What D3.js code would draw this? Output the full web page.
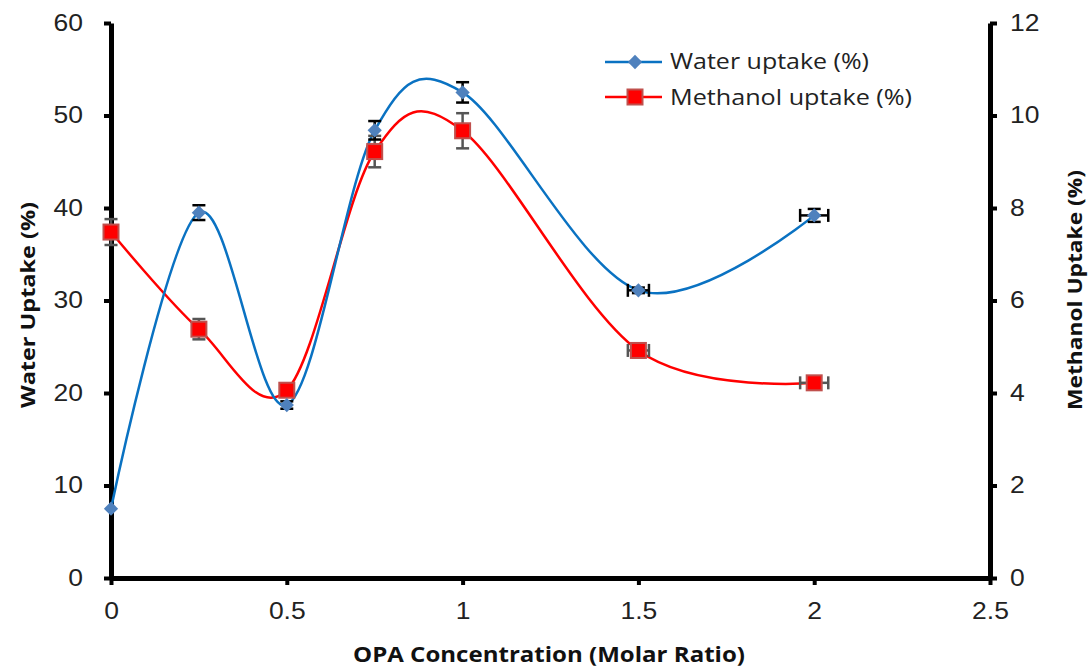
<!DOCTYPE html>
<html>
<head>
<meta charset="utf-8">
<script src="https://cdn.jsdelivr.net/npm/d3@7"></script>
<style>
  html, body { margin: 0; padding: 0; background: #fff; }
  svg { display: block; }
  .tick text { font-family: "Liberation Sans", Arial, sans-serif; font-size: 23px; fill: #222; }
  .title { font-family: "Open Sans", "Liberation Sans", sans-serif; font-weight: bold; fill: #111; }
  .legend text { font-family: "Open Sans", "Liberation Sans", sans-serif; font-size: 21px; fill: #222; }
</style>
</head>
<body>
<svg id="chart" width="1091" height="669"></svg>
<script>
// OPA concentration (molar ratio)
const opa = [0, 0.25, 0.5, 0.75, 1, 1.5, 2];
// Water uptake (%) with error
const water = [7.5, 39.5, 18.7, 48.4, 52.5, 31.1, 39.2];
const waterErrY = [0, 0.8, 0.4, 1.0, 1.1, 0.3, 0.7];
const waterErrX = [0, 0, 0, 0, 0, 0.03, 0.04];
// Methanol uptake (%) with error
const methanol = [7.48, 5.38, 4.06, 9.22, 9.67, 4.92, 4.22];
const methErrY = [0.28, 0.22, 0.1, 0.34, 0.38, 0.15, 0.1];
const methErrX = [0, 0, 0, 0, 0, 0.03, 0.04];

const xTicks = [0, 0.5, 1, 1.5, 2, 2.5];
const leftTicks = [0, 10, 20, 30, 40, 50, 60];
const rightTicks = [0, 2, 4, 6, 8, 10, 12];

const svg = d3.select("#chart");
const plotL = 111, plotR = 990, plotT = 23, plotB = 578;

const x = d3.scaleLinear().domain([0, 2.5]).range([plotL, plotR]);
const yL = d3.scaleLinear().domain([0, 60]).range([plotB, plotT]);
const yR = d3.scaleLinear().domain([0, 12]).range([plotB, plotT]);

// widen glyphs horizontally by a given factor
function widen(sel, factor) {
  sel.each(function () {
    const len = this.getComputedTextLength();
    d3.select(this).attr("textLength", len * factor).attr("lengthAdjust", "spacingAndGlyphs");
  });
}

function styleAxis(g) {
  g.select(".domain").attr("stroke", "#000").attr("stroke-width", 5);
  g.selectAll(".tick line").attr("stroke", "#000").attr("stroke-width", 4);
  widen(g.selectAll(".tick text"), 1.15);
}

// axes
svg.append("g").attr("transform", `translate(0,${plotB})`)
  .call(d3.axisBottom(x).tickValues(xTicks).tickFormat(d3.format("")).tickSize(7).tickSizeOuter(0).tickPadding(18))
  .call(styleAxis);
svg.append("g").attr("transform", `translate(${plotL},0)`)
  .call(d3.axisLeft(yL).tickValues(leftTicks).tickSize(7).tickSizeOuter(0).tickPadding(21))
  .call(styleAxis);
svg.append("g").attr("transform", `translate(${plotR},0)`)
  .call(d3.axisRight(yR).tickValues(rightTicks).tickSize(7).tickSizeOuter(0).tickPadding(13))
  .call(styleAxis);

// axis titles
svg.append("text").attr("class", "title").attr("text-anchor", "middle")
  .style("font-size", "21px")
  .attr("x", 549).attr("y", 662)
  .attr("textLength", 392).attr("lengthAdjust", "spacingAndGlyphs")
  .text("OPA Concentration (Molar Ratio)");
svg.append("text").attr("class", "title").attr("text-anchor", "middle")
  .style("font-size", "20px")
  .attr("transform", "translate(35,305) rotate(-90)")
  .attr("textLength", 206).attr("lengthAdjust", "spacingAndGlyphs")
  .text("Water Uptake (%)");
svg.append("text").attr("class", "title").attr("text-anchor", "middle")
  .style("font-size", "20px")
  .attr("transform", "translate(1082,290) rotate(-90)")
  .attr("textLength", 240).attr("lengthAdjust", "spacingAndGlyphs")
  .text("Methanol Uptake (%)");

const curve = d3.curveCardinal.tension(0);

const waterPts = opa.map((v, i) => ({ x: v, y: water[i], ey: waterErrY[i], ex: waterErrX[i] }));
const methPts = opa.map((v, i) => ({ x: v, y: methanol[i], ey: methErrY[i], ex: methErrX[i] }));

// smoothed lines
svg.append("path").datum(methPts)
  .attr("fill", "none").attr("stroke", "#ff0000").attr("stroke-width", 2.5)
  .attr("d", d3.line().x(d => x(d.x)).y(d => yR(d.y)).curve(curve));
svg.append("path").datum(waterPts)
  .attr("fill", "none").attr("stroke", "#0a72c2").attr("stroke-width", 2.5)
  .attr("d", d3.line().x(d => x(d.x)).y(d => yL(d.y)).curve(curve));

// error bars
function errorBars(pts, yScale, color) {
  const g = svg.append("g").attr("stroke", color).attr("stroke-width", 2.5).attr("fill", "none");
  const cap = 6.5;
  pts.forEach(d => {
    const cx = x(d.x), cy = yScale(d.y);
    if (d.ey > 0) {
      const y1 = yScale(d.y + d.ey), y2 = yScale(d.y - d.ey);
      g.append("line").attr("x1", cx).attr("x2", cx).attr("y1", y1).attr("y2", y2);
      g.append("line").attr("x1", cx - cap).attr("x2", cx + cap).attr("y1", y1).attr("y2", y1);
      g.append("line").attr("x1", cx - cap).attr("x2", cx + cap).attr("y1", y2).attr("y2", y2);
    }
    if (d.ex > 0) {
      const x1 = x(d.x - d.ex), x2 = x(d.x + d.ex);
      g.append("line").attr("x1", x1).attr("x2", x2).attr("y1", cy).attr("y2", cy);
      g.append("line").attr("x1", x1).attr("x2", x1).attr("y1", cy - cap).attr("y2", cy + cap);
      g.append("line").attr("x1", x2).attr("x2", x2).attr("y1", cy - cap).attr("y2", cy + cap);
    }
  });
}
errorBars(methPts, yR, "#555");
errorBars(waterPts, yL, "#000");

// markers
const diamond = d3.symbol().type(d3.symbolDiamond2).size(130);
svg.append("g").selectAll("rect").data(methPts).join("rect")
  .attr("x", d => x(d.x) - 7.5).attr("y", d => yR(d.y) - 7.5)
  .attr("width", 15).attr("height", 15)
  .attr("fill", "#ff0000").attr("stroke", "#c0504d").attr("stroke-width", 2);
svg.append("g").selectAll("path").data(waterPts).join("path")
  .attr("transform", d => `translate(${x(d.x)},${yL(d.y)})`)
  .attr("d", diamond).attr("fill", "#4f81bd");

// legend
const lg = svg.append("g").attr("class", "legend");
lg.append("line").attr("x1", 605).attr("x2", 662).attr("y1", 62).attr("y2", 62)
  .attr("stroke", "#0a72c2").attr("stroke-width", 2.5);
lg.append("path").attr("transform", "translate(635,62)").attr("d", diamond).attr("fill", "#4f81bd");
lg.append("text").attr("x", 670).attr("y", 69)
  .attr("textLength", 199).attr("lengthAdjust", "spacingAndGlyphs")
  .text("Water uptake (%)");
lg.append("line").attr("x1", 605).attr("x2", 662).attr("y1", 97).attr("y2", 97)
  .attr("stroke", "#ff0000").attr("stroke-width", 2.5);
lg.append("rect").attr("x", 627.5).attr("y", 89.5).attr("width", 15).attr("height", 15)
  .attr("fill", "#ff0000").attr("stroke", "#c0504d").attr("stroke-width", 2);
lg.append("text").attr("x", 670).attr("y", 105)
  .attr("textLength", 242).attr("lengthAdjust", "spacingAndGlyphs")
  .text("Methanol uptake (%)");
</script>
</body>
</html>
